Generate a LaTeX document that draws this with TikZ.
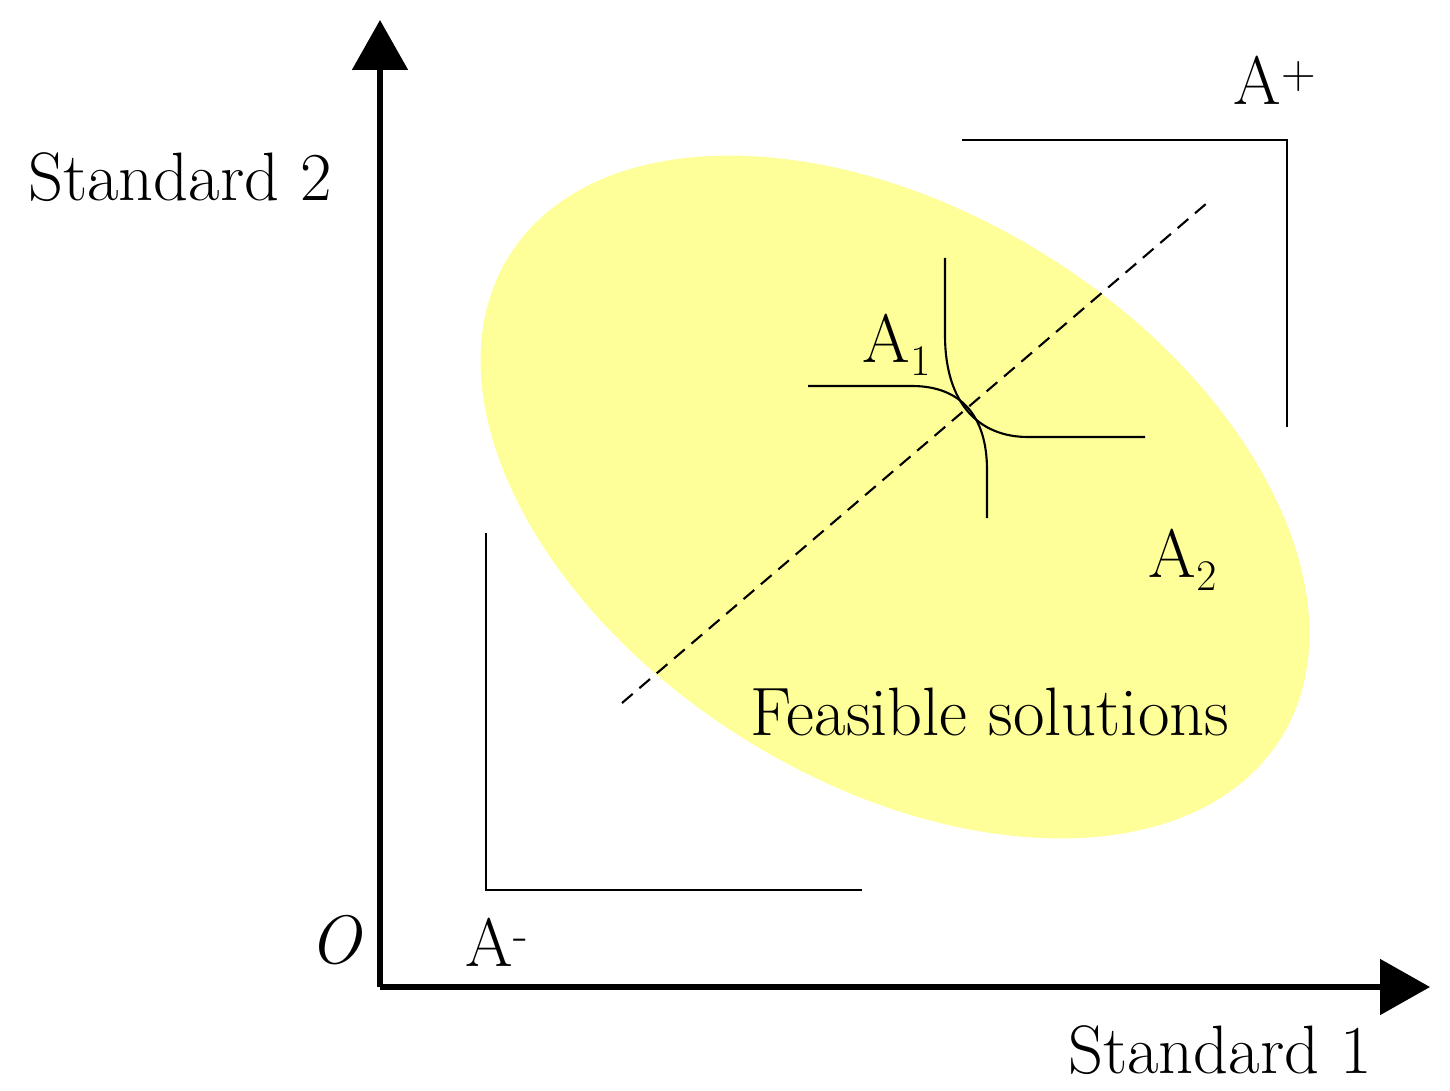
\documentclass[tikz,border=0pt]{standalone}
\usetikzlibrary{arrows.meta}
\definecolor{feas}{HTML}{FFFF99}
\begin{document}
\begin{tikzpicture}[x=0.02cm,y=0.02cm,
  lbl/.style={font=\fontsize{39}{45}\selectfont,inner sep=0pt},
  thin/.style={line width=1.2pt},
  axis/.style={line width=3pt,-{Triangle[length=1cm,width=1.1cm]}}]
\useasboundingbox (0,0) rectangle (1450,-1091);
\fill[feas,rotate around={-32:(895,-497)}] (895,-497) ellipse [x radius=455, y radius=285];
\coordinate (o) at (380,-987);
\coordinate (ytop) at (380,-20);
\coordinate (xend) at (1430,-987);
\draw[axis] (o) -- (ytop);
\draw[axis] (o) -- (xend);
\coordinate (p1) at (962,-140); \coordinate (p2) at (1287,-140); \coordinate (p3) at (1287,-427);
\draw[thin] (p1) -- (p2) -- (p3);
\coordinate (m1) at (486,-533); \coordinate (m2) at (486,-890); \coordinate (m3) at (862,-890);
\draw[thin] (m1) -- (m2) -- (m3);
\coordinate (d1) at (622,-703); \coordinate (d2) at (1207,-203);
\draw[thin,dashed,dash pattern=on 8pt off 5pt] (d1) -- (d2);
\draw[thin] (945,-258) -- (945,-335) .. controls (945,-405) and (980,-437) .. (1028,-437) -- (1145,-437);
\draw[thin] (808,-386) -- (912,-386) .. controls (960,-386) and (987,-415) .. (987,-470) -- (987,-518);
\node[lbl] (s2) at (180,-177) {Standard 2};
\node[lbl] (s1) at (1220,-1050) {Standard 1};
\node[lbl] (O) at (335,-940) {\itshape O};
\node[lbl] (am) at (497,-942) {A\textsuperscript{-}};
\node[lbl] (ap) at (1275,-80) {A\textsuperscript{+}};
\node[lbl] (a1) at (897,-345) {A$_1$};
\node[lbl] (a2) at (1183,-560) {A$_2$};
\node[lbl] (fs) at (990,-712) {Feasible solutions};
\end{tikzpicture}
\end{document}
